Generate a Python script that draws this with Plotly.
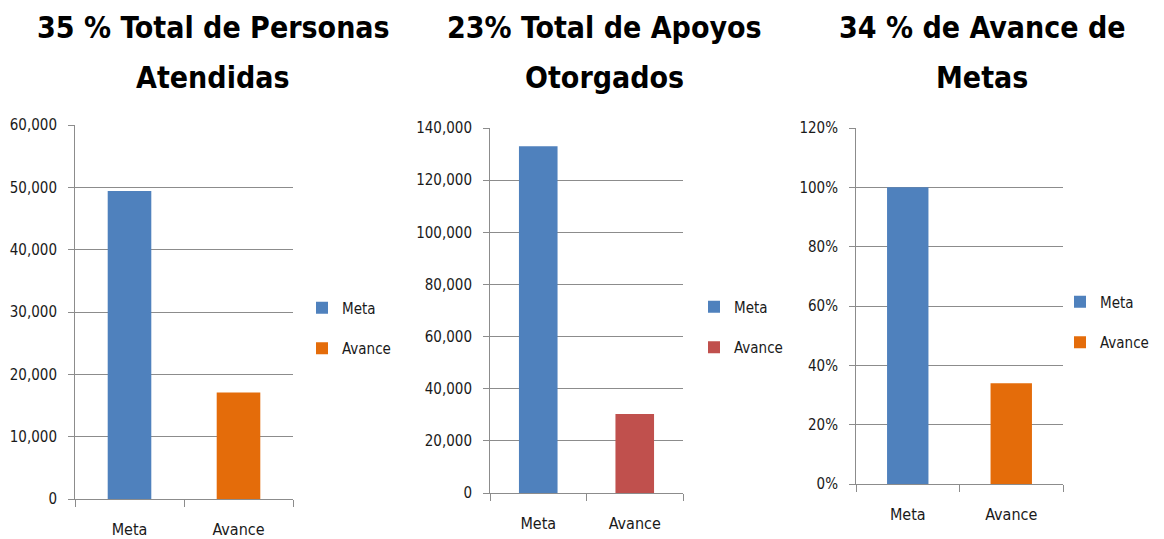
import plotly.graph_objects as go

categories = ["Meta", "Avance"]
title_lines = [["35 % Total de Personas", "Atendidas"],
               ["23% Total de Apoyos", "Otorgados"],
               ["34 % de Avance de", "Metas"]]
personas = [49400, 17100]
apoyos = [133000, 30300]
avance_metas = [1.00, 0.34]
colors1 = ["#4F81BD", "#E46C0A"]
colors2 = ["#4F81BD", "#C0504D"]
colors3 = ["#4F81BD", "#E46C0A"]

# page body has an 8px default margin; build the figure so window pixels line up
OFF = 8
W, H = 1164 - OFF, 539 - OFF
FONT = "DejaVu Sans Condensed, Liberation Sans Narrow, Liberation Sans, sans-serif"
GRID = "#8C8C8C"


def px(xw):
    return (xw - OFF) / W


def py(yw):
    return 1 - (yw - OFF) / H


panels = [
    dict(vals=personas, cols=colors1, x=(75, 293), y=(499, 125), rng=[0, 60000], dtick=10000, fmt=",", title_x=213, leg_x=302, leg_y=328),
    dict(vals=apoyos, cols=colors2, x=(490, 683), y=(493, 128), rng=[0, 140000], dtick=20000, fmt=",", title_x=604, leg_x=694, leg_y=327),
    dict(vals=avance_metas, cols=colors3, x=(856, 1063), y=(484, 128), rng=[0, 1.2], dtick=0.2, fmt=".0%", title_x=982, leg_x=1060, leg_y=322),
]

fig = go.Figure()
layout = dict(width=W, height=H, margin=dict(l=0, r=0, t=0, b=0, autoexpand=False),
              paper_bgcolor="white", plot_bgcolor="white", barmode="overlay",
              font=dict(family=FONT, size=16, color="#1a1a1a"), annotations=[])

for i, p in enumerate(panels):
    n = "" if i == 0 else str(i + 1)
    leg = "legend" + n
    for j, cat in enumerate(categories):
        fig.add_trace(go.Bar(x=[cat], y=[p["vals"][j]], name=cat, width=0.4,
                             marker=dict(color=p["cols"][j], line=dict(width=0)),
                             xaxis="x" + n, yaxis="y" + n, legend=leg,
                             legendgroup=f"{i}-{cat}"))
    layout["xaxis" + n] = dict(domain=[px(p["x"][0]), px(p["x"][1])], anchor="y" + n,
                               categoryorder="array", categoryarray=categories,
                               showline=True, linecolor=GRID, linewidth=1,
                               ticks="outside", tickson="boundaries", ticklen=7, tickcolor=GRID,
                               ticklabelstandoff=16, tickfont=dict(size=16, family=FONT),
                               showgrid=False, fixedrange=True)
    layout["yaxis" + n] = dict(domain=[py(p["y"][0]), py(p["y"][1])], anchor="x" + n,
                               range=p["rng"], dtick=p["dtick"], tickformat=p["fmt"],
                               showline=True, linecolor=GRID, linewidth=1,
                               showgrid=True, gridcolor=GRID, gridwidth=1,
                               ticks="outside", ticklen=6, tickcolor=GRID,
                               ticklabelstandoff=8, tickfont=dict(size=15, family=FONT),
                               zeroline=False, fixedrange=True)
    layout[leg] = dict(x=px(p["leg_x"]), y=py(p["leg_y"]), xanchor="left", yanchor="middle",
                       xref="paper", yref="paper", bgcolor="rgba(0,0,0,0)",
                       traceorder="grouped", tracegroupgap=18, itemwidth=30,
                       font=dict(size=15, family=FONT))
    for k, line_y in enumerate([28, 77]):
        layout["annotations"].append(dict(text="<b>" + title_lines[i][k] + "</b>",
                                          x=px(p["title_x"]), y=py(line_y),
                                          xref="paper", yref="paper", xanchor="center", yanchor="middle",
                                          showarrow=False,
                                          font=dict(size=30, family=FONT, color="black")))

fig.update_layout(**layout)
fig.write_html("out.html")
